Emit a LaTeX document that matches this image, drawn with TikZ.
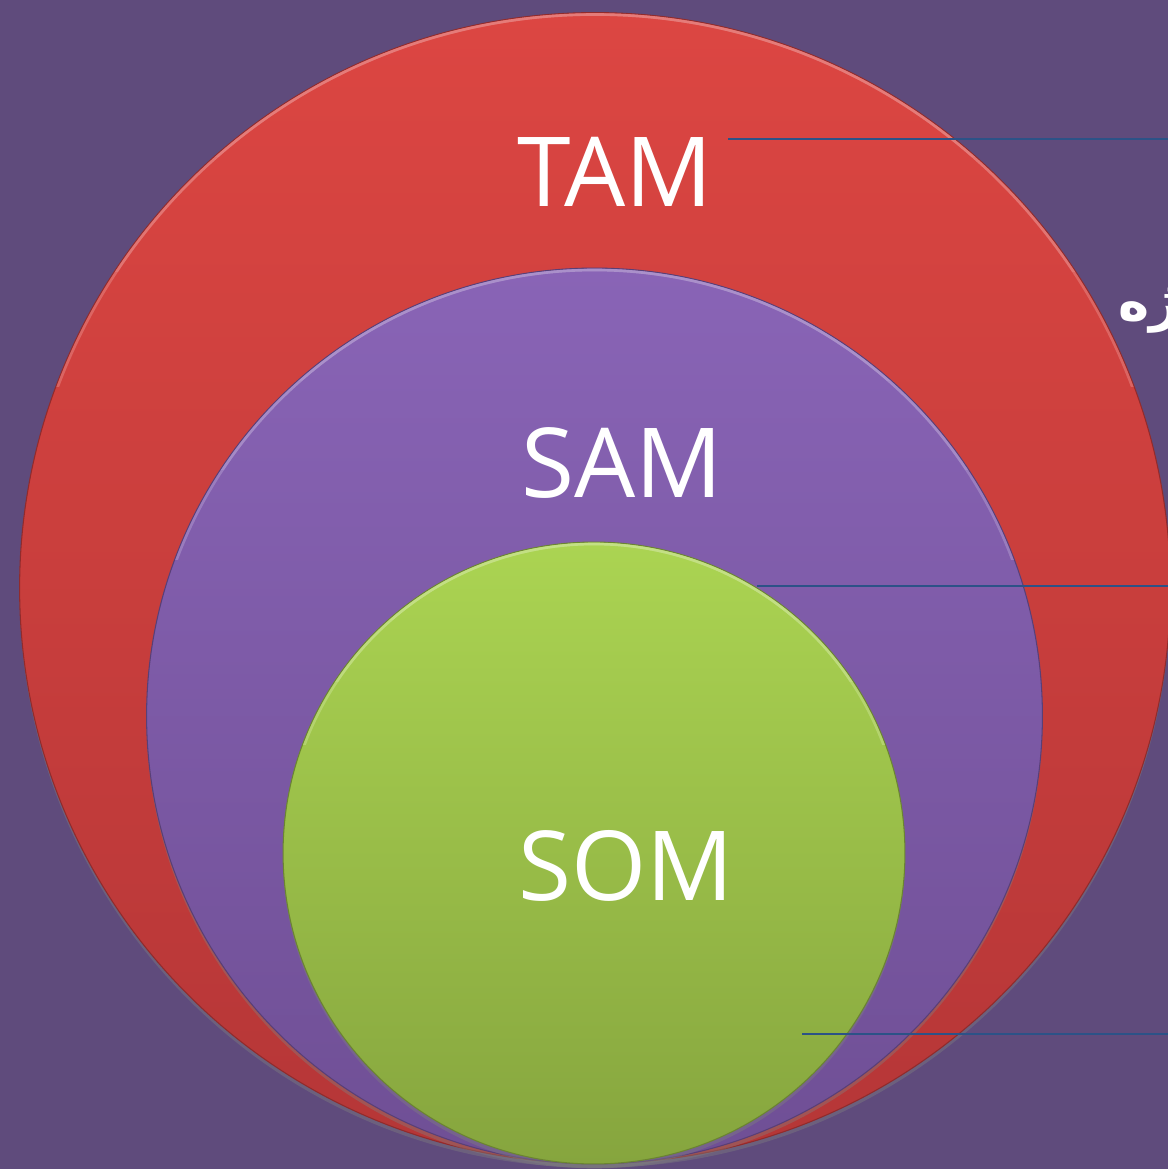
\documentclass[tikz,border=0pt]{standalone}
\usepackage{fontspec}
\setmainfont{Open Sans}
\newfontfamily\arabicfont[Script=Arabic]{DejaVu Sans}
\TeXXeTstate=1
\usetikzlibrary{shadows}
\definecolor{bgpurple}{HTML}{5F4B7C}
\definecolor{tamtop}{HTML}{DC4642}
\definecolor{tambot}{HTML}{B53637}
\definecolor{samtop}{HTML}{8964B6}
\definecolor{sambot}{HTML}{6F4F95}
\definecolor{somtop}{HTML}{ABD452}
\definecolor{sombot}{HTML}{86A53E}
\definecolor{leaderblue}{HTML}{2C5287}

\begin{document}
\begin{tikzpicture}[x=0.02cm,y=-0.02cm,
                    ring/.style={circle,inner sep=0pt,line width=0.6pt,
                      drop shadow={shadow xshift=0pt,shadow yshift=-2.5pt,opacity=0.4}},
                    marketlabel/.style={text=white,inner sep=0pt,font=\fontsize{55}{55}\selectfont},
                    leader/.style={leaderblue,line width=1.4pt}]
      \useasboundingbox (0,0) rectangle (1168,1169);
      \clip (0,0) rectangle (1168,1169);
      \fill[bgpurple] (0,0) rectangle (1168,1169);

      % nested markets
      \node[ring,minimum size=23.02cm,draw=tambot!80!black,top color=tamtop,bottom color=tambot] (tam) at (595,588) {};
      \node[ring,minimum size=17.92cm,draw=sambot!80!black,top color=samtop,bottom color=sambot] (sam) at (594.5,716) {};
      \node[ring,minimum size=12.44cm,draw=sombot!80!black,top color=somtop,bottom color=sombot] (som) at (594,853) {};

      % light rim on the upper edges, fading out sideways
      \foreach \name/\cy/\r/\rim in {tam/588/575.5/tamtop,sam/716/448/samtop,som/853/311/somtop} {
        \foreach \k/\op in {0.75/0.25,0.55/0.35,0.35/0.45} {
          \begin{scope}
            \clip (0,0) rectangle (1168,\cy-\k*\r);
            \draw[\rim!60!white,line width=1.5pt,opacity=\op] (\name.center) circle[radius=\r-2];
          \end{scope}
        }
      }

      \node[marketlabel] (tamlabel) at (615,172) {TAM};
      \node[marketlabel] (samlabel) at (622,463) {SAM};
      \node[marketlabel] (somlabel) at (626,866) {SOM};

      % leader lines to the right edge
      \foreach \name/\x/\y in {tam/728/139,sam/757/586,som/802/1034} {
        \coordinate (\name-start) at (\x,\y);
        \coordinate (\name-end) at (1168,\y);
        \draw[leader] (\name-start) -- (\name-end);
      }

      \node[anchor=base west,inner sep=0pt,text=white,
            font=\arabicfont\bfseries\fontsize{30}{30}\selectfont] (note) at (1118,320) {\beginR ویژه\endR};
    \end{tikzpicture}
\end{document}
